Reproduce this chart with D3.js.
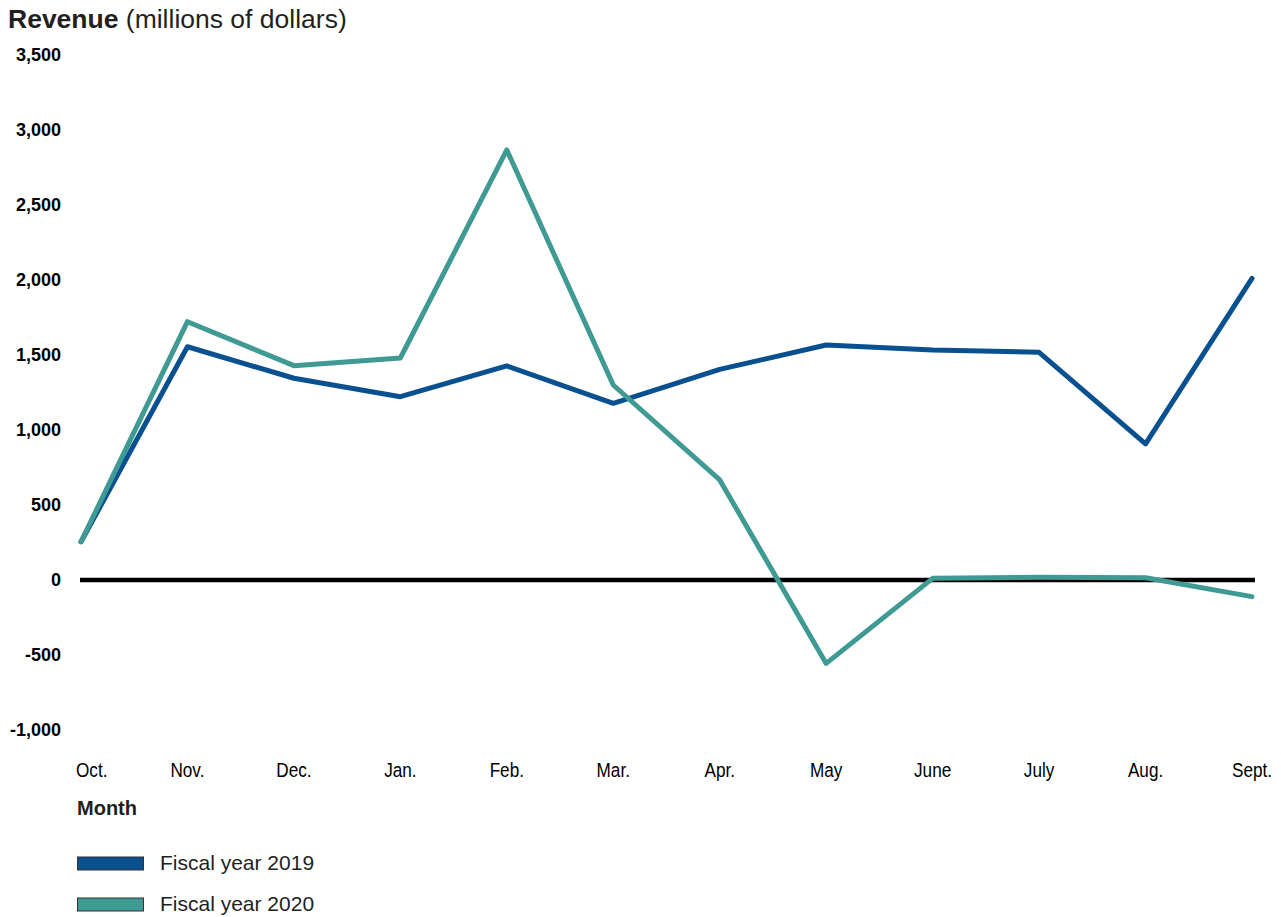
<!DOCTYPE html>
<html>
<head>
<meta charset="utf-8">
<script src="https://cdn.jsdelivr.net/npm/d3@7"></script>
<style>
  html, body { margin: 0; padding: 0; background: #fff; }
  svg { display: block; font-family: "Liberation Sans", Arial, sans-serif; }
</style>
</head>
<body>
<svg id="chart" width="1281" height="917"></svg>
<script>
const months = ["Oct.", "Nov.", "Dec.", "Jan.", "Feb.", "Mar.", "Apr.", "May", "June", "July", "Aug.", "Sept."];
const fy2019 = [255, 1555, 1345, 1222, 1427, 1178, 1404, 1567, 1533, 1518, 907, 2011];
const fy2020 = [255, 1722, 1429, 1480, 2867, 1300, 667, -556, 11, 18, 15, -111];
const yTicks = [-1000, -500, 0, 500, 1000, 1500, 2000, 2500, 3000, 3500];
const seriesNames = ["Fiscal year 2019", "Fiscal year 2020"];
const seriesColors = ["#08508f", "#3e9a92"];

const svg = d3.select("#chart");

const x = d3.scalePoint().domain(months).range([81, 1252]);
const y = d3.scaleLinear().domain([-1000, 3500]).range([730, 55]);

// Title
const title = svg.append("text").attr("x", 8).attr("y", 28)
  .attr("font-size", 26.5).attr("fill", "#231f20");
title.append("tspan").attr("font-weight", "bold").text("Revenue");
title.append("tspan").text(" (millions of dollars)");

// Y axis
const yAxis = d3.axisLeft(y).tickValues(yTicks).tickSize(0).tickPadding(0)
  .tickFormat(d => d3.format(",")(d).replace("\u2212", "-"));
const gy = svg.append("g").attr("transform", "translate(61,0)").call(yAxis);
gy.select(".domain").remove();
gy.selectAll("text").attr("font-size", 18).attr("font-weight", "bold")
  .attr("fill", "#000").attr("font-family", "Liberation Sans, Arial, sans-serif");

// X axis labels
const sx = 0.88;
const xAxis = d3.axisBottom(x).tickSize(0).tickPadding(0);
const gx = svg.append("g").attr("transform", "translate(0,763)").call(xAxis);
gx.select(".domain").remove();
gx.selectAll("text").attr("font-size", 19.5).attr("fill", "#000")
  .attr("font-family", "Liberation Sans, Arial, sans-serif")
  .attr("dy", "0.71em")
  .attr("transform", `scale(${sx},1)`)
  .each(function(d, i) {
    const t = d3.select(this);
    const px = x(d);
    d3.select(this.parentNode).attr("transform", null);
    if (i === 0) {
      t.attr("text-anchor", "start").attr("x", 76 / sx);
    } else {
      t.attr("text-anchor", "middle").attr("x", px / sx);
    }
  });

// Axis title
svg.append("text").attr("x", 77).attr("y", 815)
  .attr("font-size", 20).attr("font-weight", "bold").attr("fill", "#231f20")
  .text("Month");

// Zero line
svg.append("line")
  .attr("x1", x(months[0]) - 1).attr("x2", x(months[months.length - 1]) + 3)
  .attr("y1", y(0)).attr("y2", y(0))
  .attr("stroke", "#000").attr("stroke-width", 4.5);

// Lines
const line = d3.line().x((d, i) => x(months[i])).y(d => y(d));
[fy2019, fy2020].forEach((s, k) => {
  svg.append("path").datum(s)
    .attr("d", line)
    .attr("fill", "none")
    .attr("stroke", seriesColors[k])
    .attr("stroke-width", 5)
    .attr("stroke-linejoin", "round")
    .attr("stroke-linecap", "round");
});

// Legend
const legendY = [857, 898];
seriesNames.forEach((name, k) => {
  svg.append("rect").attr("x", 77.5).attr("y", legendY[k])
    .attr("width", 66).attr("height", 13)
    .attr("fill", seriesColors[k]).attr("stroke", "#333").attr("stroke-width", 1);
  svg.append("text").attr("x", 160).attr("y", legendY[k] + 13)
    .attr("font-size", 21).attr("fill", "#231f20").text(name);
});
</script>
</body>
</html>
